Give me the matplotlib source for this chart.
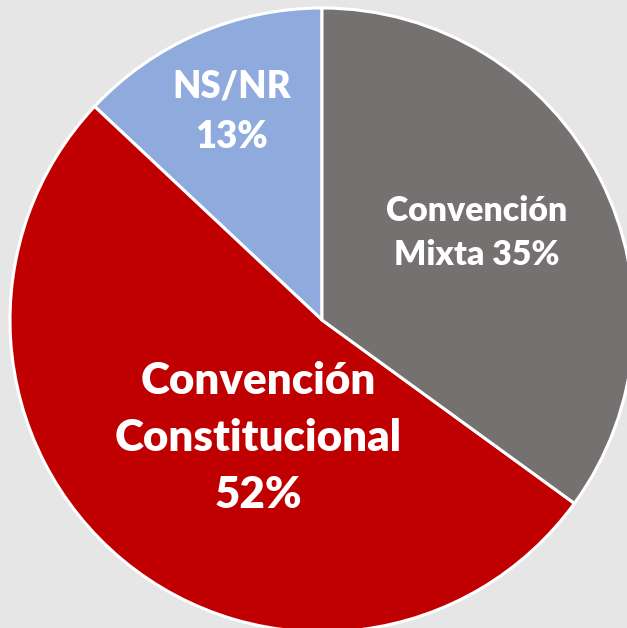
import matplotlib
matplotlib.use("Agg")
import matplotlib.pyplot as plt

labels = ["NS/NR\n13%", "Convención\nConstitucional\n52%", "Convención\nMixta 35%"]
values = [13, 52, 35]
colors = ["#8FAADC", "#C00000", "#767171"]

W, H = 627, 628
fig = plt.figure(figsize=(W / 100, H / 100), dpi=100)
fig.patch.set_facecolor("#E6E6E6")
ax = fig.add_axes([0, 0, 1, 1])

# pie in pixel units (y axis flipped, so go clockwise to look counter-clockwise)
wedges, _ = ax.pie(values, colors=colors, startangle=-90, counterclock=False,
                   center=(322, 320), radius=312, frame=True,
                   wedgeprops=dict(edgecolor="white", linewidth=2.2))
ax.set_xlim(0, W)
ax.set_ylim(H, 0)
ax.set_aspect("equal")
ax.axis("off")

font = "Lato"
wt = "heavy"
ax.text(232, 112, labels[0], ha="center", va="center", color="white",
        fontsize=26.3, fontweight=wt, family=font, linespacing=1.59)
ax.text(258, 438, labels[1], ha="center", va="center", color="white",
        fontsize=31.6, fontweight=wt, family=font, linespacing=1.52)
ax.text(477, 233, labels[2], ha="center", va="center", color="white",
        fontsize=24.3, fontweight=wt, family=font, linespacing=1.49)

fig.savefig("out.png", dpi=100, facecolor=fig.get_facecolor())
